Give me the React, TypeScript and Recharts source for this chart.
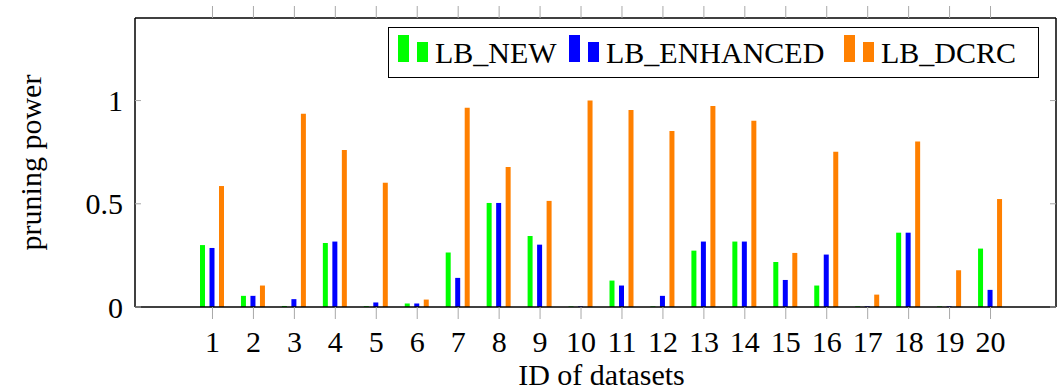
import React from 'react';
import { BarChart, Bar, XAxis, YAxis, Legend } from 'recharts';

const datasetIds = ['1', '2', '3', '4', '5', '6', '7', '8', '9', '10', '11', '12', '13', '14', '15', '16', '17', '18', '19', '20'];
const lbNew = [0.3, 0.054, 0.005, 0.31, 0.004, 0.017, 0.264, 0.504, 0.344, 0.003, 0.128, 0.003, 0.273, 0.317, 0.218, 0.104, 0.003, 0.36, 0.003, 0.283];
const lbEnhanced = [0.286, 0.054, 0.038, 0.317, 0.022, 0.017, 0.141, 0.504, 0.302, 0.003, 0.104, 0.054, 0.317, 0.317, 0.131, 0.254, 0.003, 0.36, 0.003, 0.083];
const lbDcrc = [0.586, 0.104, 0.936, 0.76, 0.602, 0.036, 0.965, 0.678, 0.514, 1.0, 0.954, 0.853, 0.974, 0.902, 0.262, 0.752, 0.06, 0.802, 0.178, 0.523];
const yTicks = [0, 0.5, 1];
const seriesNames = ['LB_NEW', 'LB_ENHANCED', 'LB_DCRC'];

const COLORS = ['#00ff00', '#0000ff', '#ff8000'];
const FONT = '"Liberation Serif", "Times New Roman", serif';
const TICK_GRAY = '#a8a8a8';
// widths of the legend labels, to space the items like the original
const LEGEND_TEXT_W = [134, 238, 141];

const data = datasetIds.map((id, i) => ({
  id,
  [seriesNames[0]]: lbNew[i],
  [seriesNames[1]]: lbEnhanced[i],
  [seriesNames[2]]: lbDcrc[i],
}));

// tick marks only, no label (mirrored axes on top / right)
const NoLabel = () => <g />;

const LegendBox = () => (
  <div
    style={{
      display: 'flex',
      alignItems: 'flex-end',
      border: '1.5px solid #000',
      background: '#fff',
      padding: '0 0 15px 9px',
      height: 34,
      boxSizing: 'content-box',
      width: 640,
      fontFamily: FONT,
      fontSize: 30,
      lineHeight: '30px',
      color: '#000',
    }}
  >
    {seriesNames.map((name, i) => (
      <div key={name} style={{ display: 'flex', alignItems: 'flex-end' }}>
        <div style={{ width: 11, height: 27, background: COLORS[i] }}></div>
        <div style={{ width: 11, height: 20, background: COLORS[i], marginLeft: 8 }}></div>
        <span style={{ display: 'inline-block', width: LEGEND_TEXT_W[i], marginLeft: 7, marginBottom: -6 }}>{name}</span>
      </div>
    ))}
  </div>
);

const App: React.FC = () => {
  const tickStyle = { fill: '#000', fontSize: 30, fontFamily: FONT };
  return (
    <div style={{ position: 'absolute', left: 0, top: 0, fontFamily: FONT, background: '#fff' }}>
      <BarChart
        width={1058}
        height={391}
        data={data}
        margin={{ top: 0, right: 0, bottom: 0, left: 0 }}
        barSize={5}
        barGap={4.5}
      >
        <XAxis
          dataKey="id"
          height={84}
          padding={{ left: 57, right: 45 }}
          interval={0}
          tickSize={12}
          tickMargin={12}
          tick={tickStyle}
          tickLine={{ stroke: TICK_GRAY }}
          axisLine={{ stroke: '#000', strokeWidth: 1.5 }}
          label={{ value: 'ID of datasets', position: 'insideBottom', offset: 6, dx: 6, fill: '#000', fontSize: 30, fontFamily: FONT }}
        />
        <XAxis
          xAxisId="top"
          orientation="top"
          dataKey="id"
          height={18}
          padding={{ left: 57, right: 45 }}
          interval={0}
          tickSize={12}
          tick={NoLabel}
          tickLine={{ stroke: TICK_GRAY }}
          axisLine={{ stroke: '#000', strokeWidth: 1.5 }}
        />
        <YAxis
          width={135}
          domain={[0, 1.4]}
          ticks={yTicks}
          allowDataOverflow
          tickSize={-6}
          tickMargin={18}
          tick={tickStyle}
          tickLine={{ stroke: TICK_GRAY }}
          axisLine={{ stroke: '#000', strokeWidth: 1.5 }}
          label={{
            value: 'pruning power',
            angle: -90,
            position: 'insideLeft',
            offset: 30,
            fill: '#000',
            fontSize: 30,
            fontFamily: FONT,
            style: { textAnchor: 'middle' },
          }}
        />
        <YAxis
          yAxisId="right"
          orientation="right"
          width={2}
          domain={[0, 1.4]}
          ticks={yTicks}
          allowDataOverflow
          tickSize={-6}
          tick={NoLabel}
          tickLine={{ stroke: TICK_GRAY }}
          axisLine={{ stroke: '#000', strokeWidth: 1.5 }}
        />
        <Legend
          layout="vertical"
          align="center"
          verticalAlign="middle"
          wrapperStyle={{ top: 27, left: 388, width: 'auto' }}
          content={() => <LegendBox />}
        />
        {seriesNames.map((name, i) => (
          <Bar key={name} dataKey={name} fill={COLORS[i]} isAnimationActive={false} />
        ))}
      </BarChart>
    </div>
  );
};

export default App;
